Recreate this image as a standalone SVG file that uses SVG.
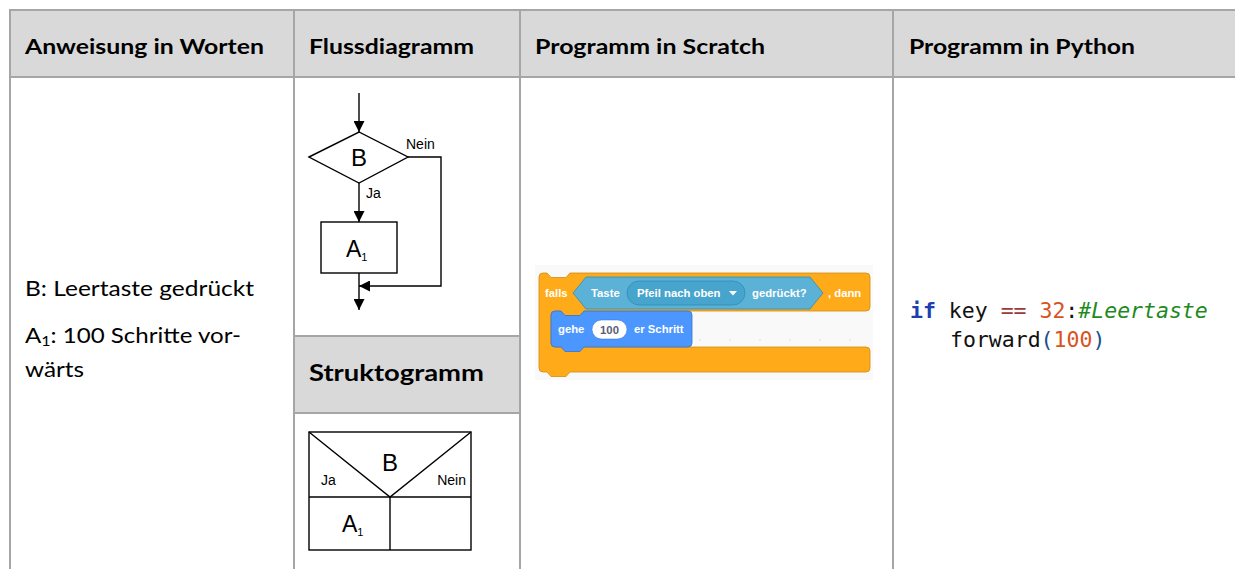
<svg xmlns="http://www.w3.org/2000/svg" width="1235" height="569" viewBox="0 0 1235 569">
  <defs>
    <style>
      .grid { stroke: #a6a6a6; stroke-width: 2; fill: none; }
      .head { fill: #d9d9d9; }
      .th { font-family: Lato, "Open Sans", "Liberation Sans", sans-serif; font-weight: bold; font-size: 21px; fill: #000; }
      .th-big { font-size: 23px; }
      .td { font-family: Lato, "Open Sans", "Liberation Sans", sans-serif; font-size: 21px; fill: #000; }
      .fc { stroke: #000; stroke-width: 1.4; fill: none; }
      .fcbox { stroke: #000; stroke-width: 1.4; fill: #fff; }
      .lbl { font-family: "Liberation Sans", Arial, sans-serif; fill: #000; }
      .sc { font-family: "Liberation Sans", Arial, sans-serif; font-weight: bold; font-size: 11.3px; fill: #fff; }
      .sc-num { fill: #575E75; }
      .code { font-family: "DejaVu Sans Mono", "Liberation Mono", monospace; font-size: 21.5px; fill: #111; }
    </style>
    <marker id="arrow" viewBox="0 0 11 11" markerWidth="11" markerHeight="11" refX="11" refY="5.5" orient="auto" markerUnits="userSpaceOnUse">
      <path d="M0,0 L11,5.5 L0,11 Z" fill="#000"/>
    </marker>
    <pattern id="dots" x="535" y="265" width="30" height="30" patternUnits="userSpaceOnUse">
      <circle cx="15" cy="15" r="0.8" fill="#d6d6d6"/>
    </pattern>
  </defs>

  <!-- table background and rules -->
  <g id="table">
    <rect class="head" x="10" y="10" width="1225" height="67"/>
    <rect class="head" x="294" y="336" width="226" height="77"/>
    <line class="grid" x1="9" y1="10" x2="1235" y2="10"/>
    <line class="grid" x1="9" y1="77" x2="1235" y2="77"/>
    <line class="grid" x1="294" y1="336" x2="520" y2="336"/>
    <line class="grid" x1="294" y1="413" x2="520" y2="413"/>
    <line class="grid" x1="10" y1="10" x2="10" y2="569"/>
    <line class="grid" x1="294" y1="10" x2="294" y2="569"/>
    <line class="grid" x1="520" y1="10" x2="520" y2="569"/>
    <line class="grid" x1="893" y1="10" x2="893" y2="569"/>
  </g>

  <!-- column headings -->
  <g id="headings">
    <text class="th" x="25" y="54" textLength="239" lengthAdjust="spacingAndGlyphs">Anweisung in Worten</text>
    <text class="th" x="309" y="54" textLength="165" lengthAdjust="spacingAndGlyphs">Flussdiagramm</text>
    <text class="th" x="535" y="54" textLength="230" lengthAdjust="spacingAndGlyphs">Programm in Scratch</text>
    <text class="th" x="909" y="54" textLength="226" lengthAdjust="spacingAndGlyphs">Programm in Python</text>
    <text class="th th-big" x="309" y="381" textLength="175" lengthAdjust="spacingAndGlyphs">Struktogramm</text>
  </g>

  <!-- instruction in words -->
  <g id="words">
    <text class="td" x="25" y="296" textLength="229" lengthAdjust="spacingAndGlyphs">B: Leertaste gedrückt</text>
    <text class="td" x="25" y="343" textLength="216" lengthAdjust="spacingAndGlyphs">A<tspan font-size="14" dy="3">1</tspan><tspan dy="-3">: 100 Schritte vor-</tspan></text>
    <text class="td" x="25" y="377" textLength="59" lengthAdjust="spacingAndGlyphs">wärts</text>
  </g>

  <!-- flow chart -->
  <g id="flowchart">
    <g id="connectors">
      <line class="fc" x1="359" y1="93" x2="359" y2="132" marker-end="url(#arrow)"/>
      <line class="fc" x1="359" y1="183" x2="359" y2="222" marker-end="url(#arrow)"/>
      <line class="fc" x1="359" y1="273" x2="359" y2="310" marker-end="url(#arrow)"/>
      <polyline class="fc" points="408,157 441,157 441,286 359,286" marker-end="url(#arrow)"/>
      <text class="lbl" x="406" y="149" font-size="14">Nein</text>
      <text class="lbl" x="366" y="198" font-size="14">Ja</text>
    </g>
    <g id="decision-B">
      <polygon class="fcbox" points="309,157 359,132 408,157 359,183"/>
      <text class="lbl" x="359" y="166" font-size="24" text-anchor="middle">B</text>
    </g>
    <g id="action-A1">
      <rect class="fcbox" x="321" y="222" width="76" height="51"/>
      <text class="lbl" x="346" y="257" font-size="23">A<tspan font-size="11" dy="4">1</tspan></text>
    </g>
  </g>

  <!-- structogram -->
  <g id="structogram">
    <rect class="fc" x="309" y="432" width="162" height="118" stroke-width="1.6"/>
    <line class="fc" x1="309" y1="497" x2="471" y2="497" stroke-width="1.6"/>
    <polyline class="fc" points="309,432 390,497 471,432"/>
    <line class="fc" x1="390" y1="497" x2="390" y2="550"/>
    <text class="lbl" x="390" y="471" font-size="24" text-anchor="middle">B</text>
    <text class="lbl" x="321" y="485" font-size="14">Ja</text>
    <text class="lbl" x="466" y="485" font-size="14" text-anchor="end">Nein</text>
    <text class="lbl" x="342" y="532" font-size="23">A<tspan font-size="11" dy="4">1</tspan></text>
  </g>

  <!-- Scratch script -->
  <g id="scratch">
    <rect x="535" y="265" width="338" height="115" fill="#f9f9f9"/>
    <rect x="535" y="265" width="338" height="115" fill="url(#dots)"/>
    <path d="M539,277 Q539,273 543,273 L547,273 L551,277.5 L566,277.5 L570,273 L866,273 Q870,273 870,277 L870,307 Q870,311 866,311 L584,311 L580,315.5 L565,315.5 L561,311 L555,311 Q551,311 551,315 L551,343 Q551,347 555,347 L866,347 Q870,347 870,351 L870,368 Q870,372 866,372 L570,372 L566,376.5 L551,376.5 L547,372 L543,372 Q539,372 539,368 Z" fill="#FFAB19" stroke="#CF8B17" stroke-width="0.8"/>
    <polygon points="573,293 586,277 810,277 823,293 810,309 586,309" fill="#5CB1D6" stroke="#2E8EB8" stroke-width="0.8"/>
    <rect x="627" y="281" width="118" height="24" rx="12" fill="#47A4CD" stroke="#2E8EB8" stroke-width="0.8"/>
    <path d="M729,291 L737,291 L733,295.5 Z" fill="#fff"/>
    <text class="sc" x="545" y="297">falls</text>
    <text class="sc" x="591" y="297">Taste</text>
    <text class="sc" x="637" y="297">Pfeil nach oben</text>
    <text class="sc" x="752" y="297">gedrückt?</text>
    <text class="sc" x="828" y="297">, dann</text>
    <path d="M551,315 Q551,311 555,311 L561,311 L565,315.5 L580,315.5 L584,311 L688,311 Q692,311 692,315 L692,343 Q692,347 688,347 L584,347 L580,351.5 L565,351.5 L561,347 L555,347 Q551,347 551,343 Z" fill="#4C97FF" stroke="#3373CC" stroke-width="0.8"/>
    <text class="sc" x="558" y="333">gehe</text>
    <rect x="592" y="320" width="35" height="19" rx="9.5" fill="#fff" stroke="#3373CC" stroke-width="0.5"/>
    <text class="sc sc-num" x="609.5" y="333.5" text-anchor="middle">100</text>
    <text class="sc" x="634" y="333">er Schritt</text>
  </g>

  <!-- Python program -->
  <g id="python">
    <text class="code" x="910" y="318" xml:space="preserve"><tspan fill="#1c3fae" font-weight="bold">if</tspan> key <tspan fill="#9c3a3a">==</tspan> <tspan fill="#d9531e">32</tspan>:<tspan fill="#1e8a1e" font-style="italic">#Leertaste</tspan></text>
    <text class="code" x="950" y="347">forward<tspan fill="#1d4f8a">(</tspan><tspan fill="#d9531e">100</tspan><tspan fill="#1d4f8a">)</tspan></text>
  </g>
</svg>
